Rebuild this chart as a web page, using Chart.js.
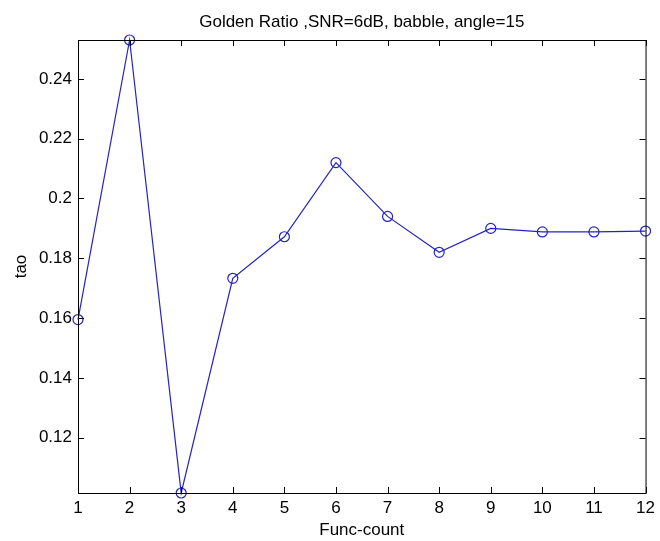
<!DOCTYPE html>
<html>
<head>
<meta charset="utf-8">
<script src="https://cdn.jsdelivr.net/npm/chart.js@4.4.0/dist/chart.umd.min.js"></script>
<style>
  html, body { margin: 0; padding: 0; background: #fff; }
  #wrap { width: 660px; height: 541px; }
</style>
</head>
<body>
<div id="wrap"><canvas id="myChart" width="660" height="541"></canvas></div>
<script>
const funcCount = [1, 2, 3, 4, 5, 6, 7, 8, 9, 10, 11, 12];
const tao = [0.1595, 0.2530, 0.1015, 0.1733, 0.1872, 0.2120, 0.1940, 0.1820, 0.1900, 0.1888, 0.1888, 0.1891];
const xTicks = [1, 2, 3, 4, 5, 6, 7, 8, 9, 10, 11, 12];
const yTicks = [0.12, 0.14, 0.16, 0.18, 0.2, 0.22, 0.24];
const titleText = "Golden Ratio ,SNR=6dB, babble, angle=15";

const FONT = "'Liberation Sans', Arial, sans-serif";
const LINE_COLOR = "#2424c0";

// caja del eje + ticks hacia adentro (estilo matlab)
const boxPlugin = {
  id: "box",
  afterDraw(chart) {
    const { ctx, chartArea: a, scales } = chart;
    const len = 6;
    ctx.save();
    ctx.strokeStyle = "#000";
    ctx.lineWidth = 1;
    ctx.beginPath();
    xTicks.forEach((v) => {
      const x = Math.round(scales.x.getPixelForValue(v)) + 0.5;
      ctx.moveTo(x, a.bottom);
      ctx.lineTo(x, a.bottom - len);
      ctx.moveTo(x, a.top);
      ctx.lineTo(x, a.top + len);
    });
    yTicks.forEach((v) => {
      const y = Math.round(scales.y.getPixelForValue(v)) + 0.5;
      ctx.moveTo(a.left, y);
      ctx.lineTo(a.left + len, y);
      ctx.moveTo(a.right, y);
      ctx.lineTo(a.right - len, y);
    });
    ctx.stroke();
    ctx.strokeRect(a.left + 0.5, a.top + 0.5, a.right - a.left, a.bottom - a.top);

    // titulo centrado sobre el area del grafico
    ctx.fillStyle = "#000";
    ctx.font = "17px " + FONT;
    ctx.textAlign = "center";
    ctx.textBaseline = "middle";
    ctx.fillText(titleText, (a.left + a.right) / 2, 22);
    ctx.restore();
  },
};

const ctx = document.getElementById("myChart");
new Chart(ctx, {
  type: "line",
  data: {
    datasets: [
      {
        data: funcCount.map((x, i) => ({ x: x, y: tao[i] })),
        borderColor: LINE_COLOR,
        borderWidth: 1.2,
        pointRadius: 5,
        pointBorderWidth: 1.2,
        pointBorderColor: LINE_COLOR,
        pointBackgroundColor: "rgba(0,0,0,0)",
        tension: 0,
        clip: false,
      },
    ],
  },
  options: {
    responsive: false,
    animation: false,
    events: [],
    layout: { padding: { top: 40, right: 6, left: 0, bottom: 0 } },
    plugins: {
      legend: { display: false },
      tooltip: { enabled: false },
    },
    scales: {
      x: {
        type: "linear",
        min: 1,
        max: 12,
        afterBuildTicks: (axis) => {
          axis.ticks = xTicks.map((v) => ({ value: v }));
        },
        afterFit: (axis) => {
          axis.height = 48;
        },
        grid: { display: false, drawTicks: false },
        border: { display: false },
        ticks: {
          color: "#000",
          padding: 5,
          maxRotation: 0,
          autoSkip: false,
          font: { family: FONT, size: 17 },
        },
        title: {
          display: true,
          text: "Func-count",
          color: "#000",
          padding: 0,
          font: { family: FONT, size: 17 },
        },
      },
      y: {
        type: "linear",
        min: 0.1015,
        max: 0.253,
        afterBuildTicks: (axis) => {
          axis.ticks = yTicks.map((v) => ({ value: v }));
        },
        afterFit: (axis) => {
          axis.width = 78;
        },
        grid: { display: false, drawTicks: false },
        border: { display: false },
        ticks: {
          color: "#000",
          padding: 6,
          autoSkip: false,
          font: { family: FONT, size: 17 },
          callback: (v) => String(Math.round(v * 100) / 100),
        },
        title: {
          display: true,
          text: "tao",
          color: "#000",
          padding: { top: 11, bottom: 0 },
          font: { family: FONT, size: 17 },
        },
      },
    },
  },
  plugins: [boxPlugin],
});
</script>
</body>
</html>
